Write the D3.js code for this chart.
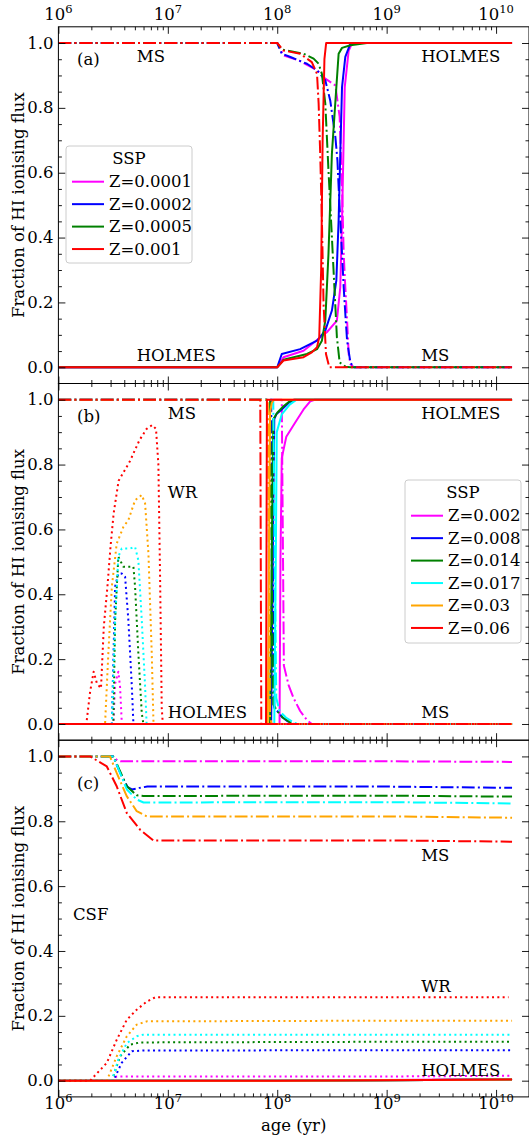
<!DOCTYPE html>
<html>
<head>
<meta charset="utf-8">
<script src="https://cdn.jsdelivr.net/npm/d3@7"></script>
<style>
body { margin: 0; background: #fff; }
text { font-family: "DejaVu Serif", "Liberation Serif", "Times New Roman", serif; font-size: 16.5px; fill: #000; }
</style>
</head>
<body>
<div id="chart"></div>
<script>
// ages in yr, values are fraction of HI ionising flux
var zA = ["0.0001", "0.0002", "0.0005", "0.001"];
var zB = ["0.002", "0.008", "0.014", "0.017", "0.03", "0.06"];

var msA = [
  [[1e6,1],[1e8,1],[1.14e8,0.962],[1.6e8,0.945],[2.31e8,0.916],[2.75e8,0.89],[3.4e8,0.869],[3.72e8,0.772],[3.91e8,0.556],[4.05e8,0.35],[4.19e8,0.247],[4.35e8,0.144],[4.5e8,0.041],[4.66e8,0.01],[5.0e8,0],[1.4e10,0]],
  [[1e6,1],[1e8,1],[1.1e8,0.967],[1.32e8,0.957],[1.87e8,0.936],[2.31e8,0.916],[2.75e8,0.885],[3.05e8,0.823],[3.4e8,0.71],[3.55e8,0.638],[3.64e8,0.556],[3.77e8,0.453],[3.91e8,0.35],[4.05e8,0.247],[4.19e8,0.165],[4.35e8,0.082],[4.66e8,0.015],[5.0e8,0],[1.4e10,0]],
  [[1e6,1],[1e8,1],[1.1e8,0.98],[1.74e8,0.967],[2.15e8,0.952],[2.39e8,0.936],[2.56e8,0.905],[2.75e8,0.813],[2.94e8,0.607],[3.16e8,0.401],[3.33e8,0.247],[3.51e8,0.093],[3.72e8,0.015],[4.2e8,0.002],[4.66e8,0],[1.4e10,0]],
  [[1e6,1],[1e8,1],[1.14e8,0.977],[1.62e8,0.967],[2.07e8,0.941],[2.31e8,0.905],[2.39e8,0.813],[2.47e8,0.659],[2.56e8,0.453],[2.65e8,0.196],[2.79e8,0.041],[2.99e8,0],[1.4e10,0]]
];
var holmesA = [
  [[1e6,0],[1e8,0],[1.14e8,0.031],[1.74e8,0.051],[2.84e8,0.108],[3.51e8,0.144],[3.77e8,0.247],[3.91e8,0.453],[4.14e8,0.864],[4.5e8,0.977],[4.82e8,0.998],[5.2e8,1],[1.4e10,1]],
  [[1e6,0],[1e8,0],[1.1e8,0.041],[1.62e8,0.056],[2.31e8,0.082],[2.75e8,0.113],[3.16e8,0.175],[3.47e8,0.268],[3.64e8,0.453],[3.77e8,0.659],[3.91e8,0.864],[4.19e8,0.957],[4.66e8,0.998],[5.0e8,1],[1.4e10,1]],
  [[1e6,0],[1e8,0],[1.14e8,0.023],[1.87e8,0.041],[2.31e8,0.056],[2.56e8,0.082],[2.75e8,0.144],[2.94e8,0.35],[3.16e8,0.659],[3.47e8,0.864],[3.64e8,0.967],[3.91e8,0.985],[4.66e8,0.993],[6.6e8,1],[1.4e10,1]],
  [[1e6,0],[1e8,0],[1.14e8,0.021],[1.74e8,0.031],[2.07e8,0.046],[2.31e8,0.062],[2.42e8,0.093],[2.52e8,0.3],[2.6e8,0.7],[2.7e8,0.95],[2.8e8,1],[1.4e10,1]]
];

var msB = [
  [[1e6,1],[1.1e8,1],[1.13e8,0.5],[1.15e8,0.18],[1.27e8,0.12],[1.41e8,0.08],[1.62e8,0.04],[1.87e8,0.012],[2.07e8,0],[1.4e10,0]],
  [[1e6,1],[8.8e7,1],[9.1e7,0.5],[9.4e7,0.05],[1.0e8,0.04],[1.12e8,0.02],[1.25e8,0.008],[1.42e8,0],[1.4e10,0]],
  [[1e6,1],[8.6e7,1],[8.9e7,0.5],[9.2e7,0.06],[1.0e8,0.04],[1.12e8,0.02],[1.3e8,0.006],[1.45e8,0],[1.4e10,0]],
  [[1e6,1],[9.2e7,1],[9.5e7,0.5],[9.8e7,0.08],[1.05e8,0.04],[1.2e8,0.02],[1.4e8,0.005],[1.55e8,0],[1.4e10,0]],
  [[1e6,1],[8.2e7,1],[8.4e7,0.5],[8.6e7,0.02],[8.9e7,0],[1.4e10,0]],
  [[1e6,1],[7.0e7,1],[7.15e7,0],[1.4e10,0]]
];
var holmesB = [
  [[1e6,0],[1.05e8,0],[1.07e8,0.5],[1.1e8,0.82],[1.21e8,0.886],[1.46e8,0.93],[1.74e8,0.97],[2.0e8,0.995],[2.2e8,1],[1.4e10,1]],
  [[1e6,0],[8.8e7,0],[9.1e7,0.5],[9.4e7,0.94],[9.8e7,0.955],[1.1e8,0.97],[1.27e8,0.99],[1.42e8,1],[1.4e10,1]],
  [[1e6,0],[8.6e7,0],[8.9e7,0.5],[9.2e7,0.94],[1.0e8,0.96],[1.14e8,0.98],[1.3e8,0.995],[1.45e8,1],[1.4e10,1]],
  [[1e6,0],[9.4e7,0],[9.7e7,0.5],[9.9e7,0.9],[1.1e8,0.955],[1.3e8,0.985],[1.5e8,1],[1.4e10,1]],
  [[1e6,0],[8.2e7,0],[8.4e7,0.5],[8.6e7,0.96],[8.9e7,0.99],[9.3e7,1],[1.4e10,1]],
  [[1e6,0],[7.9e7,0],[8.05e7,1],[1.4e10,1]]
];
var wrB = [
  [[1e6,0],[3.18e6,0],[3.3e6,0.125],[3.53e6,0.161],[3.66e6,0.115],[3.8e6,0],[1.4e10,0]],
  [[1e6,0],[3.08e6,0],[3.3e6,0.424],[3.53e6,0.464],[3.79e6,0.464],[4.07e6,0.454],[4.36e6,0.32],[4.69e6,0.115],[4.85e6,0],[1.4e10,0]],
  [[1e6,0],[3.18e6,0],[3.3e6,0.32],[3.53e6,0.516],[3.79e6,0.495],[3.93e6,0.485],[4.85e6,0.485],[5.02e6,0.423],[5.38e6,0.218],[5.78e6,0.033],[5.98e6,0],[1.4e10,0]],
  [[1e6,0],[3.08e6,0],[3.3e6,0.32],[3.53e6,0.516],[3.79e6,0.541],[4.52e6,0.541],[5.02e6,0.546],[5.38e6,0.505],[5.78e6,0.32],[6.2e6,0.115],[6.4e6,0],[1.4e10,0]],
  [[1e6,0],[2.67e6,0],[2.86e6,0.218],[3.08e6,0.424],[3.41e6,0.556],[3.93e6,0.608],[4.36e6,0.629],[5.02e6,0.69],[5.78e6,0.706],[6.2e6,0.68],[6.65e6,0.526],[7.13e6,0.218],[7.4e6,0],[1.4e10,0]],
  [[1e6,0],[1.8e6,0],[1.95e6,0.1],[2.1e6,0.161],[2.25e6,0.125],[2.45e6,0.11],[2.6e6,0.3],[2.8e6,0.42],[3.0e6,0.55],[3.2e6,0.65],[3.55e6,0.75],[4.0e6,0.78],[4.5e6,0.81],[5.5e6,0.875],[6.4e6,0.91],[7.2e6,0.922],[7.8e6,0.91],[8.2e6,0.8],[8.5e6,0.45],[8.8e6,0.05],[9.0e6,0],[1.4e10,0]]
];

var msC = [
  [[1e6,1],[3.18e6,1],[3.45e6,0.988],[3.7e6,0.985],[1e9,0.985],[1.4e10,0.983]],
  [[1e6,1],[3.18e6,1],[3.4e6,0.975],[3.8e6,0.938],[4.3e6,0.905],[4.7e6,0.898],[5.5e6,0.903],[6.5e6,0.907],[1e9,0.907],[1.4e10,0.903]],
  [[1e6,1],[3.18e6,1],[3.6e6,0.96],[4.22e6,0.908],[5.2e6,0.88],[6e6,0.878],[1e9,0.879],[1.4e10,0.876]],
  [[1e6,1],[3.18e6,1],[3.66e6,0.949],[4.22e6,0.898],[5.2e6,0.867],[6e6,0.858],[1e9,0.859],[1.4e10,0.855]],
  [[1e6,1],[2.96e6,1],[3.41e6,0.949],[4.22e6,0.877],[5.2e6,0.831],[6.43e6,0.815],[1e9,0.815],[1.4e10,0.811]],
  [[1e6,1],[1.95e6,1],[2.77e6,0.969],[3.41e6,0.908],[4.22e6,0.825],[5.58e6,0.774],[7.38e6,0.741],[1e9,0.741],[1.4e10,0.737]]
];
var wrC = [
  [[1e6,0],[3.08e6,0],[3.41e6,0.013],[1e9,0.013],[1.4e10,0.015]],
  [[1e6,0],[3.18e6,0],[3.79e6,0.055],[4.69e6,0.091],[6e6,0.093],[1e9,0.094],[1.4e10,0.094]],
  [[1e6,0],[3.08e6,0],[3.66e6,0.075],[4.52e6,0.111],[5.58e6,0.118],[1e9,0.12],[1.4e10,0.12]],
  [[1e6,0],[3.08e6,0],[3.53e6,0.065],[4.22e6,0.116],[5.2e6,0.137],[5.98e6,0.142],[1e9,0.142],[1.4e10,0.142]],
  [[1e6,0],[2.77e6,0],[3.41e6,0.075],[4.22e6,0.137],[5.2e6,0.173],[6.43e6,0.183],[1e9,0.185],[1.4e10,0.185]],
  [[1e6,0],[1.95e6,0],[2.77e6,0.055],[3.41e6,0.126],[4.22e6,0.188],[5.2e6,0.219],[6.43e6,0.244],[7.66e6,0.257],[1e9,0.257],[1.3e10,0.257]]
];
var holmesC = [
  [[1e6,0],[1e8,0],[1e9,0.002],[1.4e10,0.005]],
  [[1e6,0],[1e8,0],[1e9,0.001],[1.4e10,0.004]],
  [[1e6,0],[1e8,0],[1e9,0.001],[1.4e10,0.004]],
  [[1e6,0],[1e8,0],[1e9,0.001],[1.4e10,0.004]],
  [[1e6,0],[1e8,0],[1e9,0.001],[1.4e10,0.004]],
  [[1e6,0],[1e8,0],[1e9,0.001],[1.4e10,0.004]]
];

var xMajor = [1e6, 1e7, 1e8, 1e9, 1e10];
var xExp = ["6", "7", "8", "9", "10"];
var yMajor = [0, 0.2, 0.4, 0.6, 0.8, 1.0];
var yLabels = ["0.0", "0.2", "0.4", "0.6", "0.8", "1.0"];

var notesA = [["(a)",1.48e6,0.931],["MS",5.2e6,0.94],["HOLMES",2.07e9,0.94],["HOLMES",5.2e6,0.018],["MS",2.07e9,0.018]];
var notesB = [["(b)",1.48e6,0.931],["MS",1.0e7,0.94],["WR",1.0e7,0.697],["HOLMES",1.0e7,0.018],["HOLMES",2.07e9,0.94],["MS",2.07e9,0.018]];
var notesC = [["(c)",1.48e6,0.9],["CSF",1.36e6,0.497],["MS",2.07e9,0.676],["WR",2.07e9,0.275],["HOLMES",2.07e9,0.015]];

// styles
var colA = ["#ff00ff", "#0000ff", "#008000", "#ff0000"];
var colB = ["#ff00ff", "#0000ff", "#008000", "#00ffff", "#ffa500", "#ff0000"];
var dashMS = "12.8,3.2,2,3.2";
var dashWR = "2,3.3";

var W = 529, H = 1137;
var left = 58.4, right = 529;
var ph = 356.7;
var tops = [26.8, 383.5, 740.2];

var svg = d3.select("#chart").append("svg")
  .attr("width", W)
  .attr("height", H);

var x = d3.scaleLog().domain([1e6, 2e10]).range([left, right]);
var xMinor = x.ticks().filter(function(v) { return xMajor.indexOf(v) < 0 && v < 2e10; });
var yMinor = d3.range(0, 21).map(function(i) { return i * 0.05; }).filter(function(v, i) { return i % 4 != 0; });

function drawPanel(idx, sets, cols, notes, legend) {
  var top = tops[idx];
  var y = d3.scaleLinear().domain([-0.05, 1.05]).range([top + ph, top]);
  var g = svg.append("g");

  g.append("clipPath").attr("id", "clip" + idx)
    .append("rect").attr("x", left).attr("y", top).attr("width", right - left).attr("height", ph);

  var line = d3.line()
    .x(function(d) { return x(d[0]); })
    .y(function(d) { return y(d[1]); });

  var lines = g.append("g").attr("clip-path", "url(#clip" + idx + ")");
  cols.forEach(function(c, i) {
    sets.forEach(function(s) {
      lines.append("path")
        .attr("d", line(s.data[i]))
        .attr("fill", "none")
        .attr("stroke", c)
        .attr("stroke-width", 2)
        .attr("stroke-linejoin", "round")
        .attr("stroke-dasharray", s.dash);
    });
  });

  // ticks, all pointing in
  function ticks(axis, vals, size, tr) {
    g.append("g").attr("transform", tr)
      .call(axis.tickValues(vals).tickSize(-size).tickFormat(""))
      .call(function(a) { a.select(".domain").remove(); a.selectAll("line").attr("stroke", "#000").attr("stroke-width", 0.9); });
  }
  ticks(d3.axisBottom(x), xMajor, 7, "translate(0," + (top + ph) + ")");
  ticks(d3.axisBottom(x), xMinor, 3.5, "translate(0," + (top + ph) + ")");
  ticks(d3.axisTop(x), xMajor, 7, "translate(0," + top + ")");
  ticks(d3.axisTop(x), xMinor, 3.5, "translate(0," + top + ")");
  ticks(d3.axisLeft(y), yMajor, 7, "translate(" + left + ",0)");
  ticks(d3.axisLeft(y), yMinor, 3.5, "translate(" + left + ",0)");
  ticks(d3.axisRight(y), yMajor, 7, "translate(" + right + ",0)");
  ticks(d3.axisRight(y), yMinor, 3.5, "translate(" + right + ",0)");

  g.append("rect")
    .attr("x", left).attr("y", top).attr("width", right - left).attr("height", ph)
    .attr("fill", "none").attr("stroke", "#000").attr("stroke-width", 1);

  g.selectAll(".ylab").data(yMajor).enter().append("text")
    .attr("x", left - 5)
    .attr("y", function(d) { return y(d); })
    .attr("dy", "0.34em")
    .attr("text-anchor", "end")
    .text(function(d, i) { return yLabels[i]; });

  g.append("text")
    .attr("transform", "translate(24," + (top + ph / 2) + ") rotate(-90)")
    .attr("text-anchor", "middle")
    .text("Fraction of HI ionising flux");

  g.selectAll(".note").data(notes).enter().append("text")
    .attr("x", function(d) { return x(d[1]); })
    .attr("y", function(d) { return y(d[2]); })
    .text(function(d) { return d[0]; });

  if (legend) {
    var lg = g.append("g").attr("transform", "translate(" + legend.x + "," + legend.y + ")");
    lg.append("rect")
      .attr("width", legend.w).attr("height", legend.h)
      .attr("rx", 3)
      .attr("fill", "#fff").attr("fill-opacity", 0.8)
      .attr("stroke", "#cccccc").attr("stroke-width", 1);
    lg.append("text")
      .attr("x", legend.w / 2).attr("y", 18)
      .attr("text-anchor", "middle")
      .text("SSP");
    legend.z.forEach(function(z, i) {
      var ry = 35.7 + i * 22.45;
      lg.append("line")
        .attr("x1", 6).attr("x2", 38).attr("y1", ry).attr("y2", ry)
        .attr("stroke", cols[i]).attr("stroke-width", 2);
      lg.append("text")
        .attr("x", 43).attr("y", ry).attr("dy", "0.34em")
        .text("Z=" + z);
    });
  }
}

drawPanel(0, [{data: msA, dash: dashMS}, {data: holmesA, dash: null}], colA, notesA,
  {x: 66, y: 146, w: 126, h: 117, z: zA});
drawPanel(1, [{data: msB, dash: dashMS}, {data: wrB, dash: dashWR}, {data: holmesB, dash: null}], colB, notesB,
  {x: 405, y: 480, w: 116, h: 163, z: zB});
drawPanel(2, [{data: msC, dash: dashMS}, {data: wrC, dash: dashWR}, {data: holmesC, dash: null}], colB, notesC, null);

// x tick labels: 10^n on top of panel (a) and under panel (c)
function xLabels(baseY) {
  var t = svg.selectAll(null).data(xMajor).enter().append("text")
    .attr("x", function(d) { return x(d); })
    .attr("y", baseY)
    .attr("text-anchor", "middle");
  t.append("tspan").text("10");
  t.append("tspan")
    .attr("dy", -7)
    .style("font-size", "11.5px")
    .text(function(d, i) { return xExp[i]; });
}
xLabels(20);
xLabels(1109);

svg.append("text")
  .attr("x", (left + right) / 2)
  .attr("y", 1131)
  .attr("text-anchor", "middle")
  .text("age (yr)");
</script>
</body>
</html>
